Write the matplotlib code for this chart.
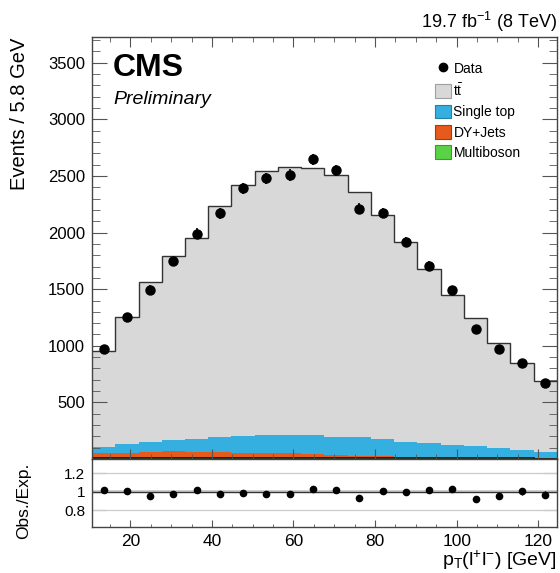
import matplotlib
matplotlib.use("Agg")
import matplotlib.pyplot as plt
import numpy as np
from matplotlib.lines import Line2D
from matplotlib.patches import Patch
from matplotlib.ticker import MultipleLocator, FixedLocator

plt.rcParams["font.family"] = ["Liberation Sans", "DejaVu Sans"]
plt.rcParams["mathtext.fontset"] = "custom"
plt.rcParams["mathtext.rm"] = "Liberation Sans"
plt.rcParams["mathtext.it"] = "Liberation Sans:italic"
plt.rcParams["mathtext.bf"] = "Liberation Sans:bold"

# dilepton pT binning [GeV]
bin_edges = [10.6, 16.3, 22.0, 27.7, 33.4, 39.1, 44.8, 50.5, 56.2, 61.9, 67.6,
             73.3, 79.0, 84.7, 90.4, 96.1, 101.8, 107.5, 113.2, 118.9, 124.6]

# expected yields per bin
ttbar = [848, 1122, 1408, 1625, 1778, 2038, 2217, 2333, 2368, 2359,
         2312, 2169, 1981, 1767, 1539, 1325, 1133, 932, 765, 627]
single_top = [58, 73, 87, 100, 114, 139, 147, 159, 162, 166,
              160, 163, 149, 132, 121, 108, 101, 82, 68, 55]
dy_jets = [45, 50, 58, 60, 55, 50, 48, 45, 42, 38,
           30, 22, 18, 15, 12, 10, 9, 8, 7, 6]
multiboson = [6, 7, 8, 8, 8, 8, 8, 8, 8, 8,
              7, 7, 7, 6, 6, 6, 5, 5, 5, 4]

# observed events
data = [975, 1255, 1495, 1745, 1992, 2170, 2390, 2480, 2510, 2647,
        2550, 2212, 2172, 1920, 1705, 1490, 1150, 975, 848, 668]

edges = np.array(bin_edges)
centers = 0.5 * (edges[1:] + edges[:-1])
data = np.array(data, dtype=float)

# stacking order, bottom to top
stack = [
    ("Multiboson", multiboson, "#5ad246", "#3a9a2c"),
    ("DY+Jets", dy_jets, "#e65a1c", "#a83a0c"),
    ("Single top", single_top, "#35aee0", "#2280aa"),
    (r"$\mathrm{t\bar{t}}$", ttbar, "#d8d8d8", "#a0a0a0"),
]

fig = plt.figure(figsize=(5.6, 5.73), dpi=100)
W, H = 560.0, 573.0
ax = fig.add_axes([92 / W, 1 - 459 / H, 465 / W, 422 / H])
axr = fig.add_axes([92 / W, 1 - 527 / H, 465 / W, 68 / H])

bottom = np.zeros(len(data))
for name, vals, fc, ec in stack:
    top = bottom + np.array(vals, dtype=float)
    ax.stairs(top, edges, baseline=bottom, fill=True, color=fc, lw=0)
    bottom = top
total = bottom
ax.stairs(total, edges, baseline=None, color="#333333", lw=1.0)
ax.stairs(np.array(multiboson, dtype=float), edges, baseline=None, color="#111111", lw=1.2)

ax.errorbar(centers, data, yerr=np.sqrt(data), fmt="o", color="black",
            ms=6.5, elinewidth=1.2, capsize=0, zorder=5)

ax.set_xlim(edges[0], edges[-1])
ax.set_ylim(0, 3728)

for a in (ax, axr):
    a.xaxis.set_major_locator(MultipleLocator(20))
    a.xaxis.set_minor_locator(MultipleLocator(5))
    for s in a.spines.values():
        s.set_color("#444444")
        s.set_linewidth(1.0)

ax.yaxis.set_major_locator(FixedLocator([500, 1000, 1500, 2000, 2500, 3000, 3500]))
ax.yaxis.set_minor_locator(MultipleLocator(100))
ax.tick_params(axis="both", which="both", direction="in", top=True, right=True,
               color="#555555", labelsize=12)
ax.tick_params(axis="y", which="major", length=11, pad=5)
ax.tick_params(axis="y", which="minor", length=5.5)
ax.tick_params(axis="x", which="major", length=7)
ax.tick_params(axis="x", which="minor", length=3.5)
ax.tick_params(axis="x", labelbottom=False)

ax.text((113 - 92) / 465, (459 - 53) / 422, "CMS", transform=ax.transAxes,
        fontsize=23, fontweight="bold", va="top", ha="left")
ax.text((113 - 92) / 465, (459 - 91) / 422, "Preliminary", transform=ax.transAxes,
        fontsize=14, style="italic", va="top", ha="left")

handles = [Line2D([], [], marker="o", ls="none", color="black", ms=6)]
labels = ["Data"]
for name, vals, fc, ec in reversed(stack):
    handles.append(Patch(facecolor=fc, edgecolor=ec, lw=0.8))
    labels.append(name)
ax.legend(handles, labels, loc="upper left", bbox_to_anchor=(0.725, 0.955),
          frameon=False, fontsize=10, handlelength=1.15, handleheight=1.15,
          handletextpad=0.2, labelspacing=0.42, borderaxespad=0)

# ratio panel
ratio = data / total
ratio_err = np.sqrt(data) / total
axr.axhline(1.2, color="#cccccc", lw=0.9)
axr.axhline(0.8, color="#cccccc", lw=0.9)
axr.stairs(1.015 * np.ones(len(data)), edges, baseline=0.985 * np.ones(len(data)),
           fill=True, color="#b0b0b0", alpha=0.6, lw=0)
axr.axhline(1.0, color="#333333", lw=1.0)
axr.errorbar(centers, ratio, yerr=ratio_err, fmt="o", color="black",
             ms=4.5, elinewidth=1.0, capsize=0, zorder=5)
axr.set_xlim(edges[0], edges[-1])
axr.set_ylim(0.615, 1.357)
axr.yaxis.set_major_locator(FixedLocator([0.8, 1.0, 1.2]))
axr.set_yticklabels(["0.8", "1", "1.2"])
axr.tick_params(axis="both", which="both", direction="in", top=False, right=True,
                color="#555555")
axr.tick_params(axis="y", which="major", length=10, labelsize=11, pad=5)
axr.tick_params(axis="x", which="major", length=5, labelsize=12.5, pad=5)
axr.tick_params(axis="x", which="minor", length=2.5)

fig.text(20 / W, 1 - 38 / H, "Events / 5.8 GeV", rotation=90, ha="center",
         va="top", fontsize=14.5)
fig.text(24 / W, 1 - 501 / H, "Obs./Exp.", rotation=90, ha="center",
         va="center", fontsize=12.5)
fig.text(557 / W, 1 - 566 / H, r"p$_{\mathrm{T}}$(l$^{+}$l$^{-}$) [GeV]",
         ha="right", va="baseline", fontsize=14)
fig.text(557 / W, 1 - 28 / H, r"19.7 fb$^{-1}$ (8 TeV)", ha="right",
         va="baseline", fontsize=13)

fig.savefig("out.png", dpi=100)
